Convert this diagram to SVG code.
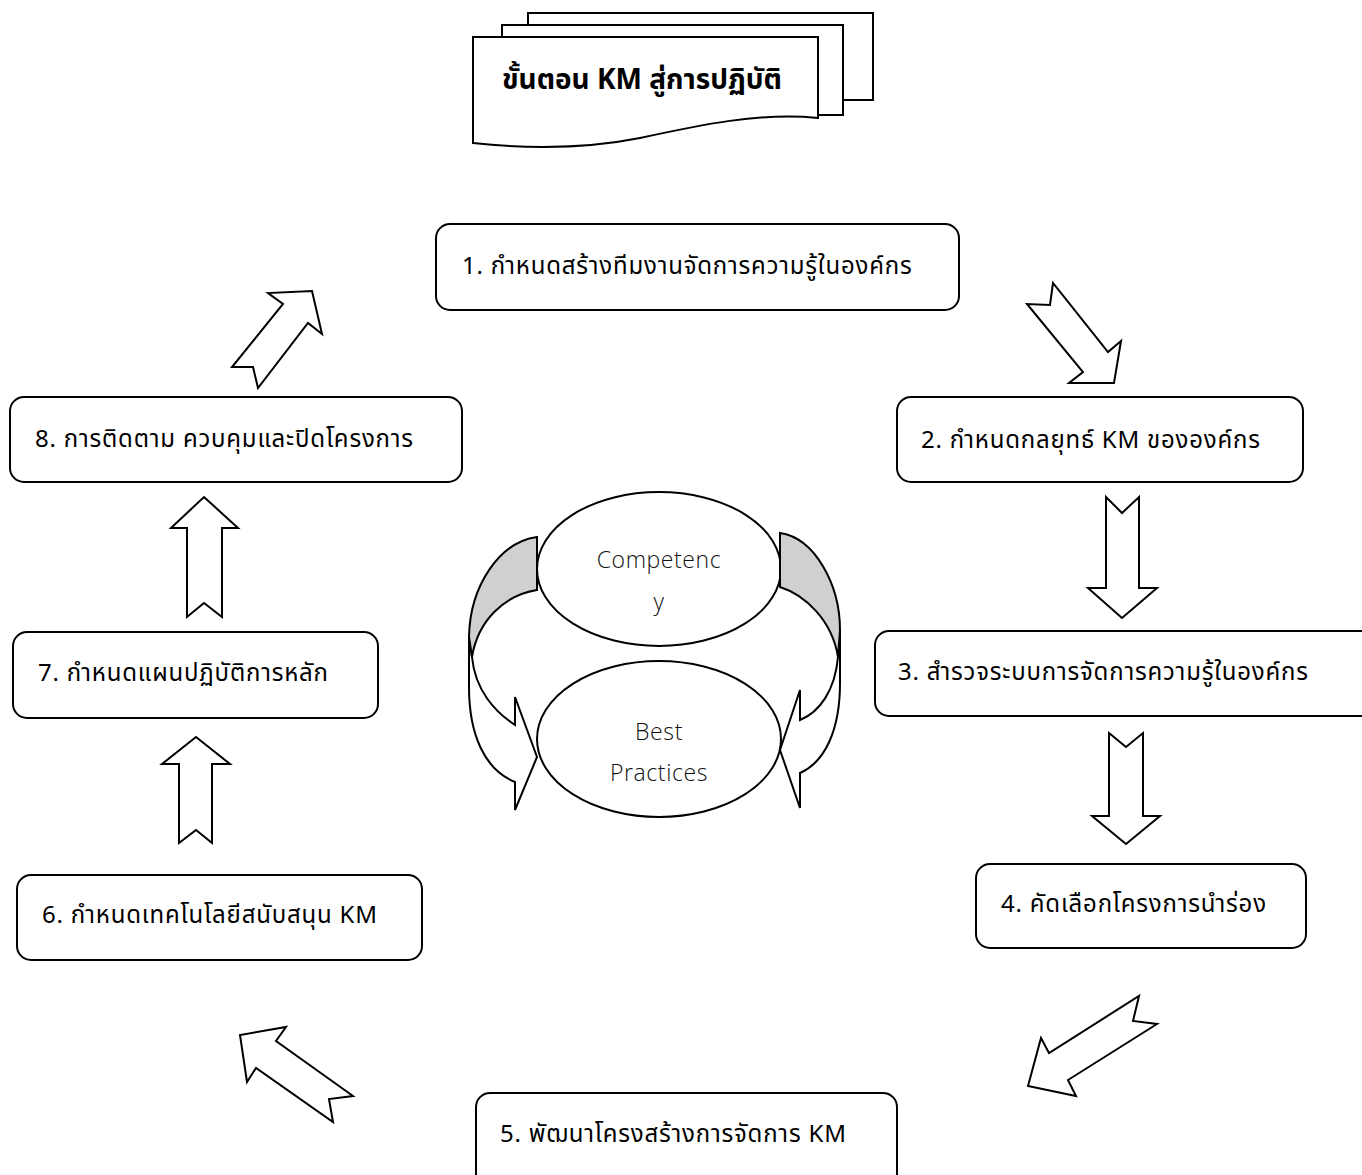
<svg xmlns="http://www.w3.org/2000/svg" width="1362" height="1175" viewBox="0 0 1362 1175">
<style>
.box{fill:#fff;stroke:#000;stroke-width:2}
.arr{fill:#fff;stroke:#000;stroke-width:2;stroke-linejoin:miter}
.t{font-family:"Noto Sans Thai","Leelawadee UI","Tahoma","Noto Sans","DejaVu Sans",sans-serif;font-size:24px;letter-spacing:0.8px;fill:#000}
.tt{font-family:"Noto Sans Thai","Leelawadee UI","Tahoma","Noto Sans","DejaVu Sans",sans-serif;font-size:28px;font-weight:bold;fill:#000}
.c{font-family:"Open Sans","Lato",sans-serif;font-weight:300;font-size:23px;letter-spacing:0.6px;fill:#111;text-anchor:middle}
.ell{fill:#fff;stroke:#000;stroke-width:2}
.gray{fill:#d0d0d0;stroke:#000;stroke-width:2}
</style>
<rect width="1362" height="1175" fill="#fff"/>

<g id="title">
<rect x="528" y="13" width="345" height="87" class="box"/>
<rect x="502" y="25" width="341" height="90" class="box"/>
<path d="M473,37 L818,37 L818,118 C760,112 700,125 640,138 C580,150 520,148 473,143 Z" class="box"/>
<text x="502" y="89" class="tt">ขั้นตอน KM สู่การปฏิบัติ</text>
</g>

<g id="node1">
<rect x="436" y="224" width="523" height="86" rx="14" class="box"/>
<text x="462" y="274" class="t">1. กำหนดสร้างทีมงานจัดการความรู้ในองค์กร</text>
</g>
<g id="node2">
<rect x="897" y="397" width="406" height="85" rx="14" class="box"/>
<text x="921" y="448" class="t">2. กำหนดกลยุทธ์ KM ขององค์กร</text>
</g>
<g id="node3">
<rect x="875" y="631" width="500" height="85" rx="14" class="box"/>
<text x="898" y="680" class="t">3. สำรวจระบบการจัดการความรู้ในองค์กร</text>
</g>
<g id="node4">
<rect x="976" y="864" width="330" height="84" rx="14" class="box"/>
<text x="1001" y="912" class="t">4. คัดเลือกโครงการนำร่อง</text>
</g>
<g id="node5">
<rect x="476" y="1093" width="421" height="95" rx="14" class="box"/>
<text x="500" y="1142" class="t">5. พัฒนาโครงสร้างการจัดการ KM</text>
</g>
<g id="node6">
<rect x="17" y="875" width="405" height="85" rx="14" class="box"/>
<text x="42" y="923" class="t">6. กำหนดเทคโนโลยีสนับสนุน KM</text>
</g>
<g id="node7">
<rect x="13" y="632" width="365" height="86" rx="14" class="box"/>
<text x="38" y="681" class="t">7. กำหนดแผนปฏิบัติการหลัก</text>
</g>
<g id="node8">
<rect x="10" y="397" width="452" height="85" rx="14" class="box"/>
<text x="35" y="447" class="t">8. การติดตาม ควบคุมและปิดโครงการ</text>
</g>

<g id="center">
<ellipse cx="659" cy="569" rx="122" ry="77" class="ell"/>
<ellipse cx="659" cy="739" rx="122" ry="78" class="ell"/>
<path d="M469,637 L469,687 C469,735 485,770 515,782 L515,810 L537,757 L515,697 L515,725 C495,712 475,690 472,657 Z" class="arr"/>
<path d="M537,537 C500,542 470,585 469,637 L472,657 C478,620 505,595 537,590 Z" class="gray"/>
<path d="M840,630 L840,683 C840,730 825,762 800,773 L800,808 L780,750 L800,690 L800,720 C820,712 835,690 838,657 Z" class="arr"/>
<path d="M780,533 C815,538 840,585 840,630 L838,657 C832,620 805,595 780,587 Z" class="gray"/>
<text x="659" y="568" class="c">Competenc</text>
<text x="659" y="610" class="c">y</text>
<text x="659" y="740" class="c">Best</text>
<text x="659" y="781" class="c">Practices</text>
</g>

<g id="connectors">
<polygon points="1053,283 1050,305 1027,304 1083,372 1069,383 1114,383 1121,341 1108,352" class="arr"/>
<polygon points="1106,497 1122,513 1139,497 1139,588 1157,588 1122,618 1088,588 1106,588" class="arr"/>
<polygon points="1109,733 1126,747 1143,733 1143,816 1160,816 1126,844 1092,816 1109,816" class="arr"/>
<polygon points="1139,996 1133,1021 1157,1024 1068,1080 1076,1096 1028,1086 1041,1038 1049,1053" class="arr"/>
<polygon points="286,1027 276,1041 353,1096 329,1099 333,1122 256,1068 247,1082 240,1035" class="arr"/>
<polygon points="196,737 230,764 212,764 212,843 196,830 179,843 179,764 162,764" class="arr"/>
<polygon points="204,497 238,528 222,528 222,617 204,603 187,617 187,528 171,528" class="arr"/>
<polygon points="232,367 253,367 258,388 308,323 322,334 312,291 268,293 283,304" class="arr"/>
</g>
</svg>
